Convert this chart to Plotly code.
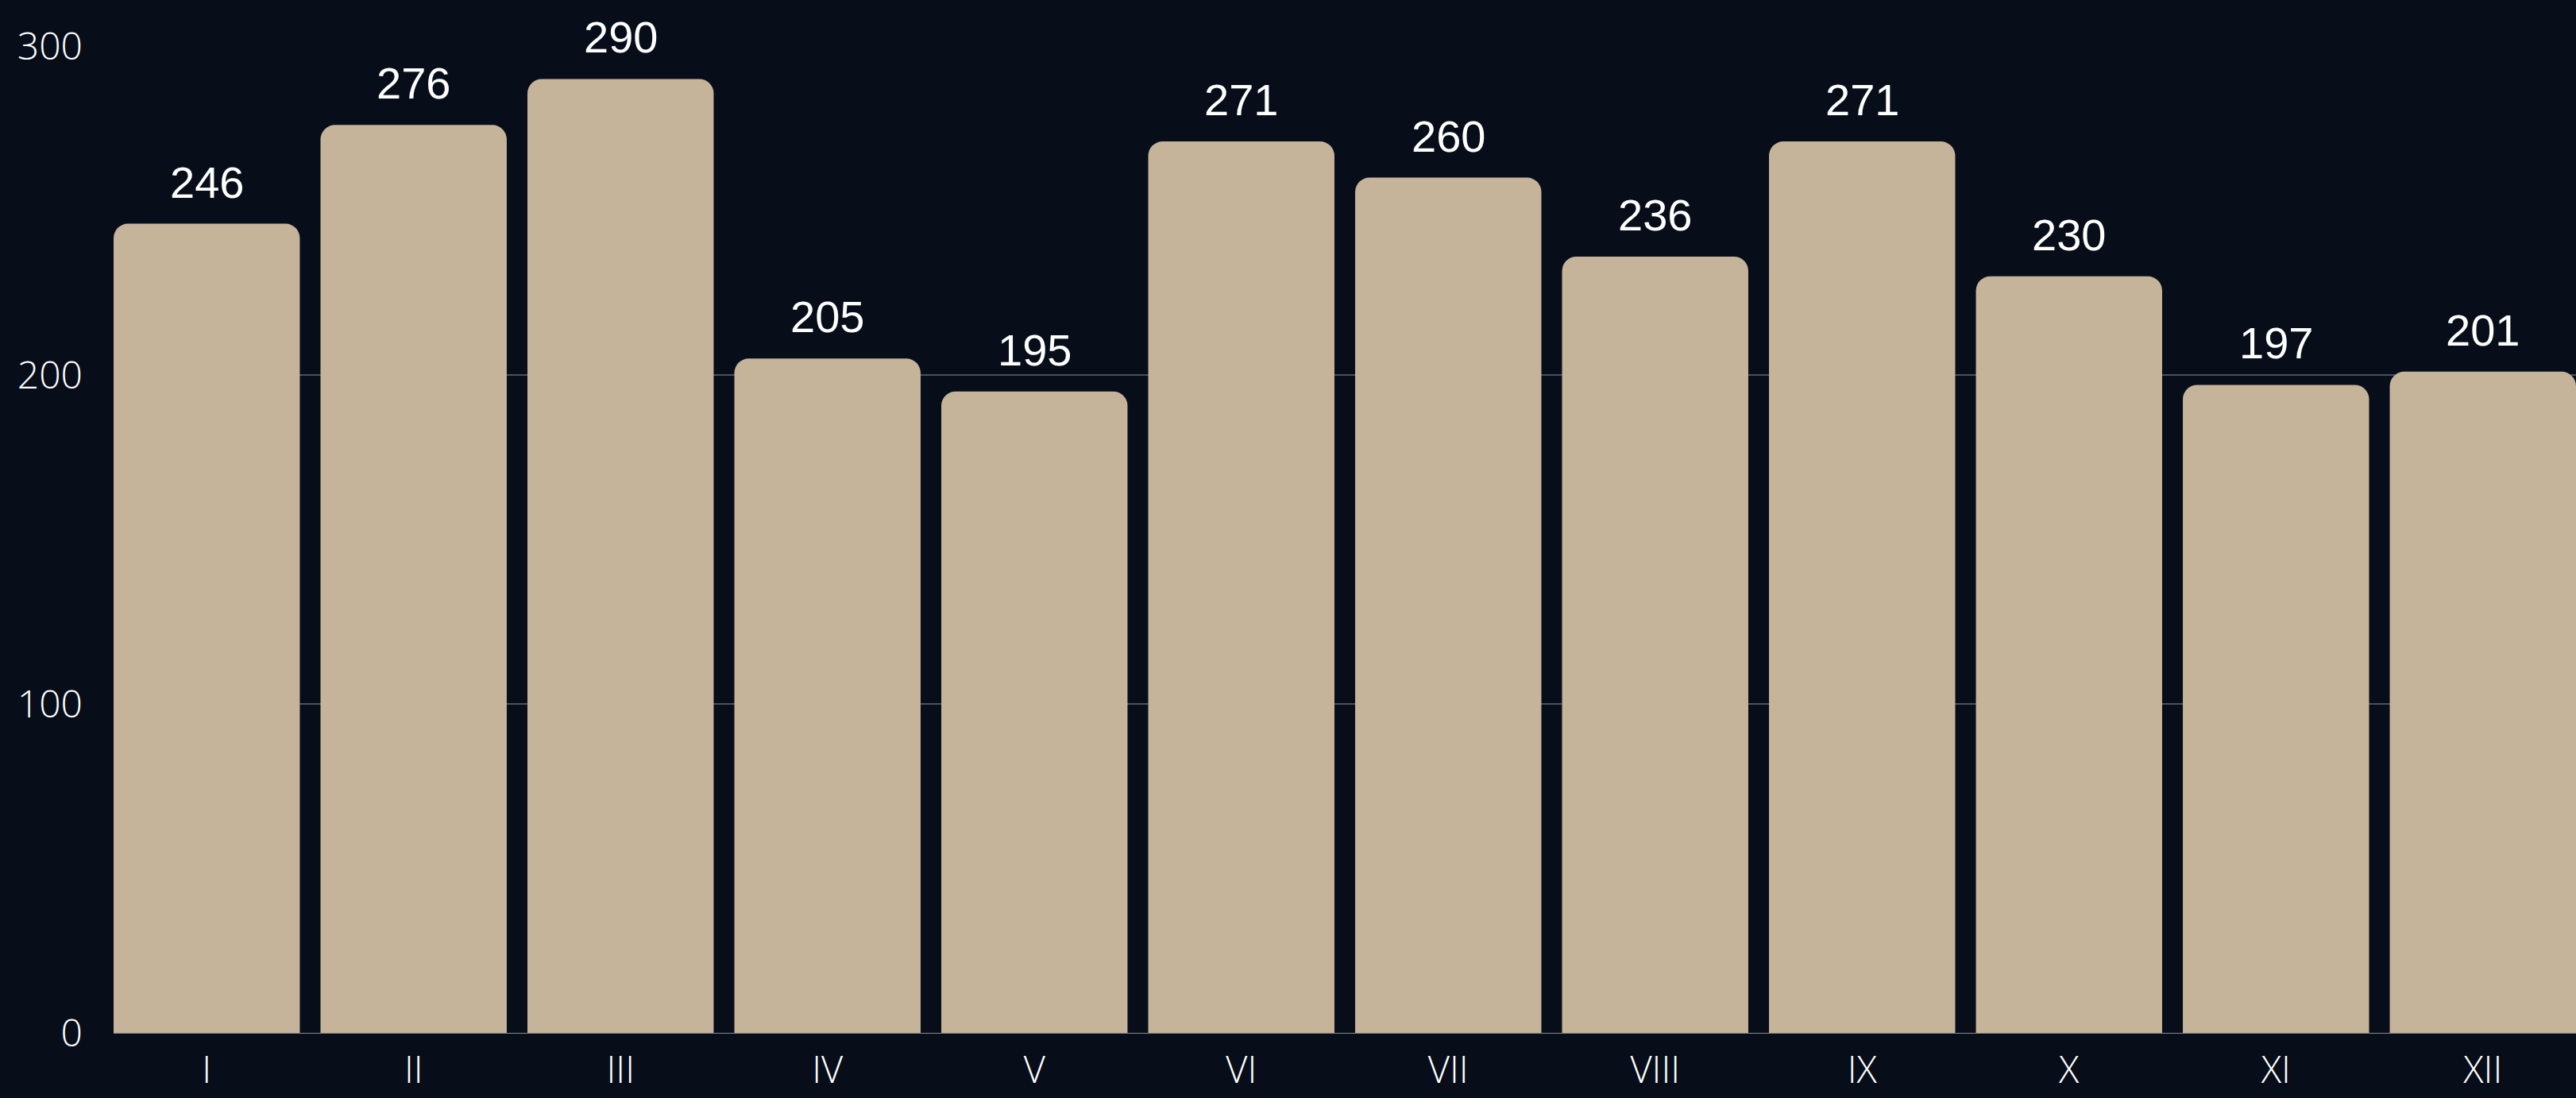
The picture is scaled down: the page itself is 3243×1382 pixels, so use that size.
import plotly.graph_objects as go

categories = ["I", "II", "III", "IV", "V", "VI", "VII", "VIII", "IX", "X", "XI", "XII"]
values = [246, 276, 290, 205, 195, 271, 260, 236, 271, 230, 197, 201]
y_ticks = [0, 100, 200, 300]

BG = "#070e1a"
BAR = "#c5b39a"

fig = go.Figure()
fig.add_trace(go.Bar(
    x=categories, y=values,
    marker=dict(color=BAR, cornerradius=18, line=dict(width=0)),
    hoverinfo="x+y",
))

for c, v in zip(categories, values):
    fig.add_annotation(
        x=c, y=v, text=str(v), showarrow=False,
        yanchor="bottom", yshift=19,
        font=dict(family="Liberation Sans, Arial, sans-serif", size=56, color="#ffffff"),
    )

fig.update_layout(
    width=3243, height=1382,
    paper_bgcolor=BG, plot_bgcolor=BG,
    margin=dict(l=143, r=0, t=58, b=82, autoexpand=False),
    bargap=0.1,
    showlegend=False,
    xaxis=dict(
        range=[-0.45, 11.45],
        showgrid=False, zeroline=False, showline=False,
        tickfont=dict(family="Open Sans", size=47, color="#ffffff", weight=300),
        ticks="", ticklabelstandoff=15, automargin=False,
    ),
    yaxis=dict(
        range=[0, 300],
        tickvals=y_ticks,
        showgrid=True, gridcolor="#4b515b", gridwidth=2,
        zeroline=True, zerolinecolor="#8a8a8a", zerolinewidth=1,
        tickfont=dict(family="Open Sans", size=48, color="#ffffff", weight=300),
        ticks="", ticklabelstandoff=38, automargin=False,
    ),
)

fig.write_html(
    "out.html",
    config={"displayModeBar": False},
    post_script="document.body.style.margin='0';document.body.style.overflow='hidden';",
)
